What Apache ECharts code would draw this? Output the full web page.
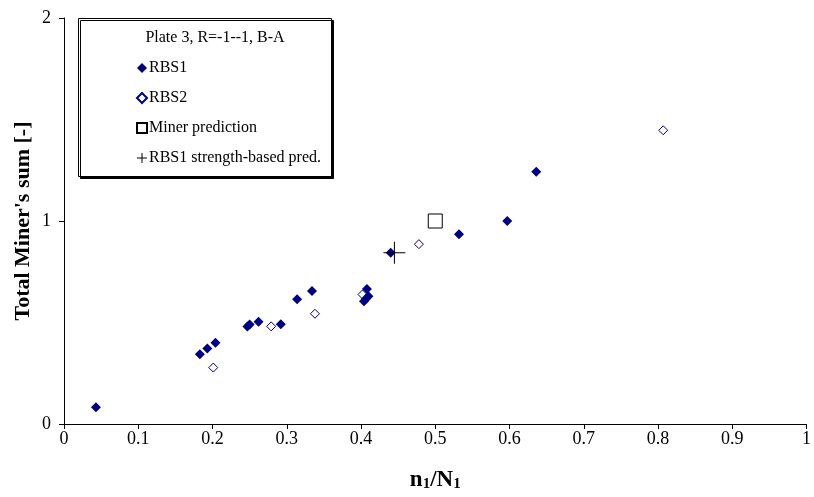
<!DOCTYPE html>
<html>
<head>
<meta charset="utf-8">
<script src="https://cdn.jsdelivr.net/npm/echarts@6/dist/echarts.min.js"></script>
<style>
  html, body { margin: 0; padding: 0; background: #fff; }
  #chart { width: 814px; height: 497px; }
</style>
</head>
<body>
<div id="chart"></div>
<script>
// Measured fatigue results: fraction of life n1/N1 against total Miner's sum
const rbs1X = [0.043, 0.183, 0.193, 0.204, 0.247, 0.250, 0.262, 0.292, 0.314, 0.334, 0.404, 0.407, 0.410, 0.408, 0.440, 0.532, 0.597, 0.636];
const rbs1Y = [0.083, 0.343, 0.372, 0.400, 0.480, 0.490, 0.504, 0.491, 0.615, 0.655, 0.605, 0.618, 0.629, 0.665, 0.844, 0.935, 1.000, 1.242];

const rbs2X = [0.201, 0.279, 0.338, 0.402, 0.478, 0.807];
const rbs2Y = [0.278, 0.481, 0.543, 0.638, 0.886, 1.447];

const minerX = [0.5];
const minerY = [1.0];

const strengthX = [0.445];
const strengthY = [0.844];

const seriesNames = ['RBS1', 'RBS2', 'Miner prediction', 'RBS1 strength-based pred.'];
const legendTitle = 'Plate 3, R=-1--1, B-A';

const xMin = 0, xMax = 1, xStep = 0.1;
const yMin = 0, yMax = 2, yStep = 1;

const FONT = '"Liberation Serif", "Times New Roman", serif';
const NAVY = '#000080';

function pairs(xs, ys) { return xs.map((x, i) => [x, ys[i]]); }

// Thin plus sign made of two filled bars (plot marker and legend icon)
const crossPath = 'path://M0,10.5 L22,10.5 L22,11.5 L0,11.5 Z M10.5,0 L11.5,0 L11.5,22 L10.5,22 Z';
const crossIcon = 'path://M0,4.5 L10,4.5 L10,5.5 L0,5.5 Z M4.5,0 L5.5,0 L5.5,10 L4.5,10 Z';

const chart = echarts.init(document.getElementById('chart'), null, { renderer: 'canvas' });

chart.setOption({
  animation: false,
  backgroundColor: '#fff',
  grid: { left: 64, right: 3, top: 18, bottom: 65, containLabel: false },
  xAxis: {
    type: 'value', min: xMin, max: xMax, interval: xStep,
    name: '{a|n}{b|1}{a|/N}{b|1}',
    nameLocation: 'middle', nameGap: 44, nameMoveOverlap: false,
    nameTextStyle: {
      rich: {
        a: { fontFamily: FONT, fontWeight: 'bold', fontSize: 23, color: '#000', lineHeight: 24 },
        b: { fontFamily: FONT, fontWeight: 'bold', fontSize: 15, color: '#000', lineHeight: 12, verticalAlign: 'bottom' }
      }
    },
    axisLine: { show: true, onZero: false, lineStyle: { color: '#000', width: 1 } },
    axisTick: { show: true, inside: false, length: 5, lineStyle: { color: '#000' } },
    axisLabel: { fontFamily: FONT, fontSize: 18, color: '#000', margin: 6 },
    splitLine: { show: false }
  },
  yAxis: {
    type: 'value', min: yMin, max: yMax, interval: yStep,
    name: "Total Miner's sum [-]",
    nameLocation: 'middle', nameGap: 30, nameRotate: 90, nameMoveOverlap: false,
    nameTextStyle: { fontFamily: FONT, fontWeight: 'bold', fontSize: 22, color: '#000' },
    axisLine: { show: true, onZero: false, lineStyle: { color: '#000', width: 1 } },
    axisTick: { show: true, inside: false, length: 5, lineStyle: { color: '#000' } },
    axisLabel: { fontFamily: FONT, fontSize: 18, color: '#000', margin: 13 },
    splitLine: { show: false }
  },
  graphic: [
    {
      type: 'rect', z: 0,
      shape: { x: 78.5, y: 18.5, width: 253, height: 158 },
      style: { fill: '#fff', stroke: '#000', lineWidth: 1, shadowColor: '#000', shadowOffsetX: 2, shadowOffsetY: 2, shadowBlur: 0 }
    },
    {
      type: 'text', z: 5, x: 215, y: 38,
      style: { text: legendTitle, font: '16px ' + FONT, fill: '#000', align: 'center', verticalAlign: 'middle' }
    }
  ],
  legend: {
    orient: 'vertical', left: 131, top: 55,
    itemWidth: 10, itemHeight: 10, itemGap: 14,
    data: [
      { name: seriesNames[0] },
      { name: seriesNames[1] },
      { name: seriesNames[2] },
      { name: seriesNames[3], icon: crossIcon }
    ],
    textStyle: { fontFamily: FONT, fontSize: 16, color: '#000', padding: [0, 0, 0, -3] },
    selectedMode: false
  },
  series: [
    {
      name: seriesNames[0], type: 'scatter', symbol: 'diamond', symbolSize: 10,
      itemStyle: { color: NAVY, opacity: 1 },
      data: pairs(rbs1X, rbs1Y), z: 3
    },
    {
      name: seriesNames[1], type: 'scatter', symbol: 'diamond', symbolSize: 9,
      itemStyle: { color: '#fff', borderColor: NAVY, borderWidth: 1, opacity: 1 },
      data: pairs(rbs2X, rbs2Y), z: 2
    },
    {
      name: seriesNames[2], type: 'scatter', symbol: 'rect', symbolSize: 14,
      itemStyle: { color: '#fff', borderColor: '#000', borderWidth: 1, opacity: 1 },
      data: pairs(minerX, minerY), z: 2
    },
    {
      name: seriesNames[3], type: 'scatter', symbol: crossPath, symbolSize: 22,
      itemStyle: { color: '#000', opacity: 1 },
      data: pairs(strengthX, strengthY), z: 4
    }
  ]
});
</script>
</body>
</html>
